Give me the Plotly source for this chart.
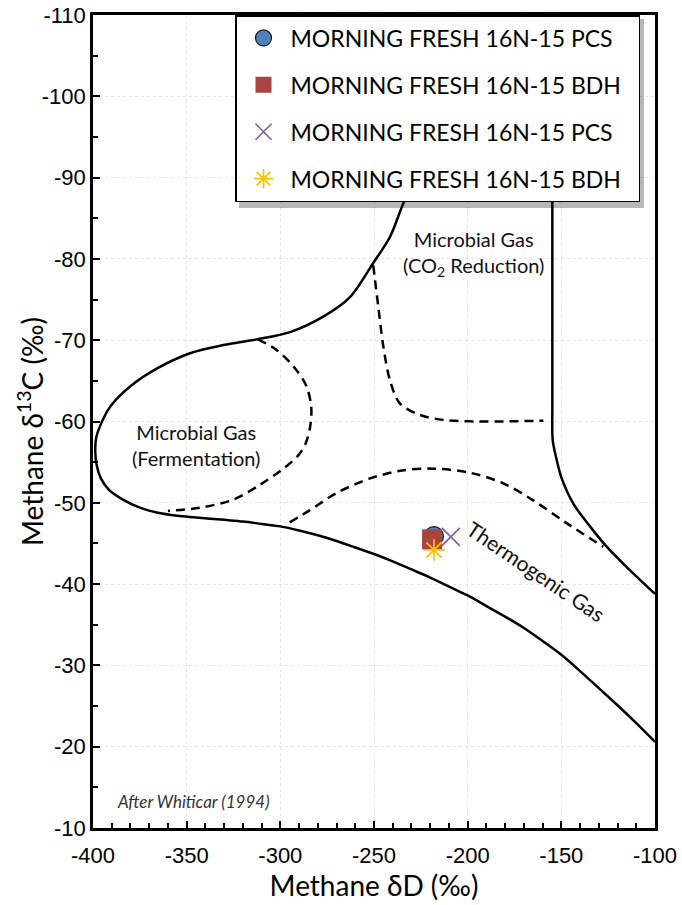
import plotly.graph_objects as go

# ---- Whiticar (1994) field boundaries: (methane dD, methane d13C) ----
outer_dD = [-196, -205, -215, -225, -234.4, -241.5, -250.4, -262.8, -277.1, -294.8,
            -312.6, -330.4, -348.2, -366, -380.2, -390.9, -396.3, -398.3, -398.8,
            -398.0, -395.8, -391.5, -384, -375, -366, -355, -345, -330, -320,
            -310, -300, -290, -280, -270, -260, -250, -240, -230, -220, -210,
            -200, -190, -180, -170, -160, -150, -140, -130, -120, -110, -100]
outer_d13C = [-110, -102, -96, -91.5, -86.8, -82.7, -79.5, -75.3, -72.9, -71.0,
              -70.1, -69.4, -68.4, -66.5, -64.3, -61.8, -59.4, -58.0, -56.3,
              -54.6, -53.0, -51.6, -50.4, -49.4, -48.8, -48.4, -48.2, -47.9, -47.7,
              -47.4, -47.1, -46.6, -46.0, -45.3, -44.5, -43.7, -42.8, -41.8, -40.8, -39.7,
              -38.6, -37.3, -36.0, -34.6, -33.0, -31.3, -29.3, -27.2, -25.1, -22.9, -20.6]

right_dD = [-154.8, -154.8, -154.6, -152.5, -149.8, -143.6, -134.7, -125.8, -115.1, -100]
right_d13C = [-110, -62, -57.7, -55.3, -53.0, -49.9, -47.1, -44.6, -42.1, -38.8]

ferm_dD = [-312, -302, -292, -286, -283.5, -284, -286.5, -290.5, -298.4, -311, -325, -343, -360]
ferm_d13C = [-70.1, -68.8, -66.5, -64.3, -61.8, -59.5, -57.3, -55.8, -54.2, -52.2, -50.4, -49.4, -49.0]

co2_dD = [-250.4, -247.7, -245, -241.5, -236.1, -225.4, -213, -195, -159.6]
co2_d13C = [-79.2, -74.1, -69.2, -65.1, -62.2, -60.8, -60.2, -60.0, -60.1]

thermo_dD = [-295, -284.2, -270, -252.1, -234.4, -218.4, -198.8, -181, -165, -147.2, -127.6]
thermo_d13C = [-47.6, -49.1, -51.2, -53.0, -54.0, -54.2, -53.7, -52.4, -50.3, -47.5, -44.6]

# ---- Samples ----
sample_names = ["MORNING FRESH 16N-15 PCS", "MORNING FRESH 16N-15 BDH",
                "MORNING FRESH 16N-15 PCS", "MORNING FRESH 16N-15 BDH"]
sample_dD = [-218, -219, -209, -218]
sample_d13C = [-45.9, -45.5, -45.8, -44.2]
sample_symbols = ["circle", "square", "x-thin-open", "asterisk-open"]
sample_colors = ["#4F81BD", "#A94441", "#8064A2", "#FFC000"]
sample_sizes = [19, 20, 18, 18]

# ---- Tick labels ----
x_tickvals = [-400, -350, -300, -250, -200, -150, -100]
x_ticktext = ["-400", "-350", "-300", "-250", "-200", "-150", "-100"]
y_tickvals = [-110, -100, -90, -80, -70, -60, -50, -40, -30, -20, -10]
y_ticktext = ["-110", "-100", "-90", "-80", "-70", "-60", "-50", "-40", "-30", "-20", "-10"]

TFONT = "Lato, Carlito, Calibri, sans-serif"
NFONT = "Liberation Sans, Arial, sans-serif"

# plot area at page x 93..655, y 15..828 (body margin removed below)
W, H = 682, 905
ML, MT, MR, MB = 93, 15, 27, 77
PW, PH = W - ML - MR, H - MT - MB

def px_to_paper(xp, yp):
    return (xp - ML) / PW, 1 - (yp - MT) / PH

fig = go.Figure()

solid = dict(color="black", width=2.5)
dashed = dict(color="black", width=2.5, dash="9px,6px")

for xs, ys, ln in [(outer_dD, outer_d13C, solid), (right_dD, right_d13C, solid),
                   (ferm_dD, ferm_d13C, dashed), (co2_dD, co2_d13C, dashed),
                   (thermo_dD, thermo_d13C, dashed)]:
    fig.add_trace(go.Scatter(x=xs, y=ys, mode="lines", line=ln,
                             line_shape="spline", line_smoothing=0.9,
                             showlegend=False, hoverinfo="skip"))

for i in range(len(sample_names)):
    sym = sample_symbols[i]
    if sym == "circle":
        mk = dict(symbol=sym, size=sample_sizes[i], color=sample_colors[i],
                  line=dict(color="#1a1a1a", width=1.2))
    elif sym == "square":
        mk = dict(symbol=sym, size=sample_sizes[i], color=sample_colors[i],
                  line=dict(width=0))
    else:
        mk = dict(symbol=sym, size=sample_sizes[i], color=sample_colors[i],
                  line=dict(color=sample_colors[i], width=1.7))
    fig.add_trace(go.Scatter(x=[sample_dD[i]], y=[sample_d13C[i]], mode="markers",
                             marker=mk, name=sample_names[i] + "\u00a0" * 2,
                             legendgroup="g%d" % i))

ann_font = dict(family=TFONT, size=20, color="#111111")
fig.add_annotation(x=-345, y=-57.1, text="Microbial Gas<br>(Fermentation)",
                   showarrow=False, font=ann_font, align="center")
fig.add_annotation(x=-197, y=-80.7, text="Microbial Gas<br>(CO<sub>2</sub> Reduction)",
                   showarrow=False, font=ann_font, align="center")
fig.add_annotation(x=-163, y=-41.6, text="Thermogenic Gas", textangle=34,
                   showarrow=False, font=dict(family=TFONT, size=21, color="#111111"))
fig.add_annotation(x=-388.5, y=-13.2, text="<i>After Whiticar (1994)</i>",
                   xanchor="left", showarrow=False,
                   font=dict(family=TFONT, size=17, color="#333333"))
# y-axis title (placed like the reference, close to the tick labels)
tx, ty = px_to_paper(30, 432)
fig.add_annotation(xref="paper", yref="paper", x=tx, y=ty,
                   text="Methane δ<sup>13</sup>C (‰)", textangle=-90,
                   showarrow=False, xanchor="center", yanchor="middle",
                   font=dict(family=TFONT, size=28, color="black"))

# legend drop shadow
sx0, sy0 = px_to_paper(239, 19)
sx1, sy1 = px_to_paper(644, 208)
fig.add_shape(type="rect", xref="paper", yref="paper", x0=sx0, x1=sx1, y0=sy1, y1=sy0,
              fillcolor="rgba(0,0,0,0.28)", line=dict(width=0), layer="above")

axis_common = dict(
    showline=True, linecolor="black", linewidth=2.5, mirror=True,
    ticks="inside", ticklen=7, tickwidth=2, tickcolor="black",
    showgrid=True, gridcolor="#e4e4e4", griddash="dot", gridwidth=1,
    zeroline=False, automargin=False, tickmode="array",
    ticklabeloverflow="allow",
    tickfont=dict(family=NFONT, size=22, color="black"),
)

fig.update_xaxes(range=[-400, -100], tickvals=x_tickvals, ticktext=x_ticktext,
                 ticklabelstandoff=6,
                 title=dict(text="Methane δD (‰)",
                            font=dict(family=TFONT, size=28, color="black"), standoff=2),
                 minor=dict(dtick=10, tick0=-400, ticks="inside", ticklen=5, tickwidth=1.5,
                            tickcolor="black", showgrid=False),
                 **axis_common)
fig.update_yaxes(range=[-10, -110], tickvals=y_tickvals, ticktext=y_ticktext,
                 ticklabelstandoff=0,
                 minor=dict(dtick=5, tick0=-110, ticks="inside", ticklen=5, tickwidth=1.5,
                            tickcolor="black", showgrid=False),
                 **axis_common)

lx, ly = px_to_paper(235, 15)
fig.update_layout(
    width=W, height=H,
    margin=dict(l=ML, r=MR, t=MT, b=MB),
    plot_bgcolor="white", paper_bgcolor="white",
    legend=dict(x=lx, y=ly, xanchor="left", yanchor="top",
                bgcolor="white", bordercolor="black", borderwidth=1.5,
                font=dict(family=TFONT, size=23, color="black"),
                tracegroupgap=14, itemwidth=44),
)

fig.write_html("out.html", config={"displayModeBar": False},
               post_script="document.body.style.margin='0px';document.body.style.overflow='hidden';")
